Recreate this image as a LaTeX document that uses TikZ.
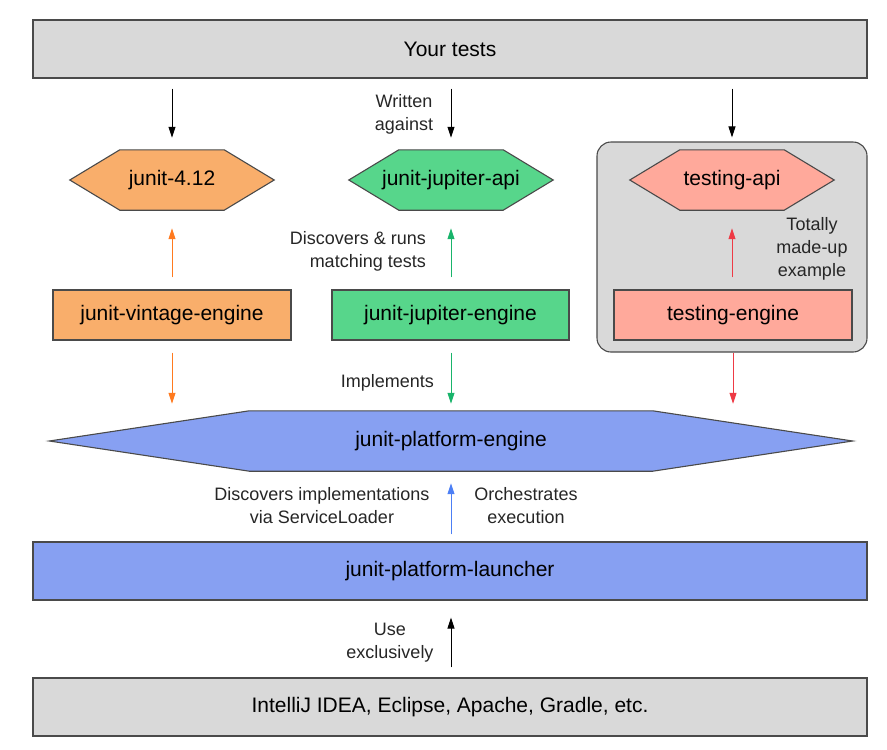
\documentclass[tikz,border=0pt]{standalone}
\usepackage{fontspec}
\setmainfont{Liberation Sans}
\usetikzlibrary{calc,arrows.meta}
\pgfdeclarelayer{background}
\pgfdeclarelayer{mid}
\pgfsetlayers{background,mid,main}
\definecolor{grayfill}{HTML}{D9D9D9}
\definecolor{edgegray}{HTML}{4A4A4A}
\definecolor{orangefill}{HTML}{F9AE6B}
\definecolor{orangearr}{HTML}{FF7A1F}
\definecolor{greenfill}{HTML}{57D68B}
\definecolor{greenarr}{HTML}{19B46B}
\definecolor{salmonfill}{HTML}{FFA99B}
\definecolor{redarr}{HTML}{EE3A45}
\definecolor{bluefill}{HTML}{87A0F2}
\definecolor{bluearr}{HTML}{4C7FF5}
\newcommand\hexfill[3]{%
  \begin{pgfonlayer}{mid}
  \draw[hexline, fill=#3] (#1.west) -- ($(#1.north west)+(#2,0)$) -- ($(#1.north east)+(-#2,0)$)
    -- (#1.east) -- ($(#1.south east)+(-#2,0)$) -- ($(#1.south west)+(#2,0)$) -- cycle;
  \end{pgfonlayer}}
\begin{document}
\begin{tikzpicture}[x=1pt,y=-1pt,
  box/.style={draw=edgegray, line width=1.1pt, inner sep=0pt, font=\fontsize{21}{25}\selectfont},
  hexbox/.style={inner sep=0pt, minimum height=60, font=\fontsize{21}{25}\selectfont},
  hexline/.style={draw=edgegray, line width=1.1pt, line join=miter},
  lbl/.style={font=\fontsize{18}{23}\selectfont, text=black!85, inner sep=0pt},
  arr/.style={-{Triangle[length=11pt,width=7pt]}, line width=1pt}]
\useasboundingbox (0,0) rectangle (887,750);

% container
\begin{pgfonlayer}{background}
\node[draw=edgegray, line width=1.1pt, fill=grayfill, rounded corners=14pt,
      minimum width=270, minimum height=210, inner sep=0pt] (tbox) at (732,247) {};
\end{pgfonlayer}

% boxes
\node[box, fill=grayfill, minimum width=834, minimum height=58] (tests) at (450,49) {Your tests};
\node[hexbox, minimum width=204] (j4) at (172,180) {junit-4.12};
\node[hexbox, minimum width=204] (japi) at (451,180) {junit-jupiter-api};
\node[hexbox, minimum width=204] (tapi) at (732,180) {testing-api};
\hexfill{j4}{50}{orangefill}
\hexfill{japi}{50}{greenfill}
\hexfill{tapi}{50}{salmonfill}

\node[box, fill=orangefill, minimum width=238, minimum height=50] (vint) at (172,315) {junit-vintage-engine};
\node[box, fill=greenfill, minimum width=237, minimum height=50] (jeng) at (450.5,315) {junit-jupiter-engine};
\node[box, fill=salmonfill, minimum width=238, minimum height=50] (teng) at (733,315) {testing-engine};

\node[hexbox, minimum width=803] (peng) at (451,441) {junit-platform-engine};
\hexfill{peng}{200}{bluefill}

\node[box, fill=bluefill, minimum width=834, minimum height=58] (launch) at (450,571) {junit-platform-launcher};
\node[box, fill=grayfill, minimum width=834, minimum height=58] (ide) at (450,707) {IntelliJ IDEA, Eclipse, Apache, Gradle, etc.};

% arrows from tests
\draw[arr, shorten <=10pt, shorten >=12pt] (tests.south -| j4.north) -- (j4.north);
\draw[arr, shorten <=10pt, shorten >=12pt] (tests.south -| japi.north) -- (japi.north);
\draw[arr, shorten <=10pt, shorten >=4pt] (tests.south -| tbox.north) -- (tbox.north);

% engines up to apis
\draw[arr, orangearr, shorten <=12pt, shorten >=18pt] (vint.north) -- (j4.south);
\draw[arr, greenarr, shorten <=12pt, shorten >=18pt] (jeng.north -| japi.south) -- (japi.south);
\draw[arr, redarr, shorten <=12pt, shorten >=18pt] (teng.north -| tapi.south) -- (tapi.south);

% engines down to platform engine
\draw[arr, orangearr, shorten <=12pt, shorten >=7pt] (vint.south) -- (peng.north -| vint.south);
\draw[arr, greenarr, shorten <=12pt, shorten >=7pt] (jeng.south -| peng.north) -- (peng.north);
\draw[arr, redarr, shorten <=12pt, shorten >=7pt] (teng.south) -- (peng.north -| teng.south);

% launcher up to platform engine
\draw[arr, bluearr, shorten <=7pt, shorten >=12pt] (launch.north -| peng.south) -- (peng.south);
% ide up to launcher
\draw[arr, shorten <=10pt, shorten >=17pt] (ide.north -| peng.south) -- (launch.south -| peng.south);

% labels
\node[lbl, align=center] (lwritten) at (404,114) {Written\\against};
\node[lbl, align=right, anchor=east] (ldisc) at (426,251) {Discovers \& runs\\matching tests};
\node[lbl, align=center] (lmade) at (812,249) {Totally\\made-up\\example};
\node[lbl, anchor=east] (limpl) at (434,383) {Implements};
\node[lbl, align=center] (lsvc) at (322,506) {Discovers implementations\\via ServiceLoader};
\node[lbl, align=center] (lorch) at (526,506) {Orchestrates\\execution};
\node[lbl, align=center] (luse) at (390,643) {Use\\exclusively};
\end{tikzpicture}
\end{document}
